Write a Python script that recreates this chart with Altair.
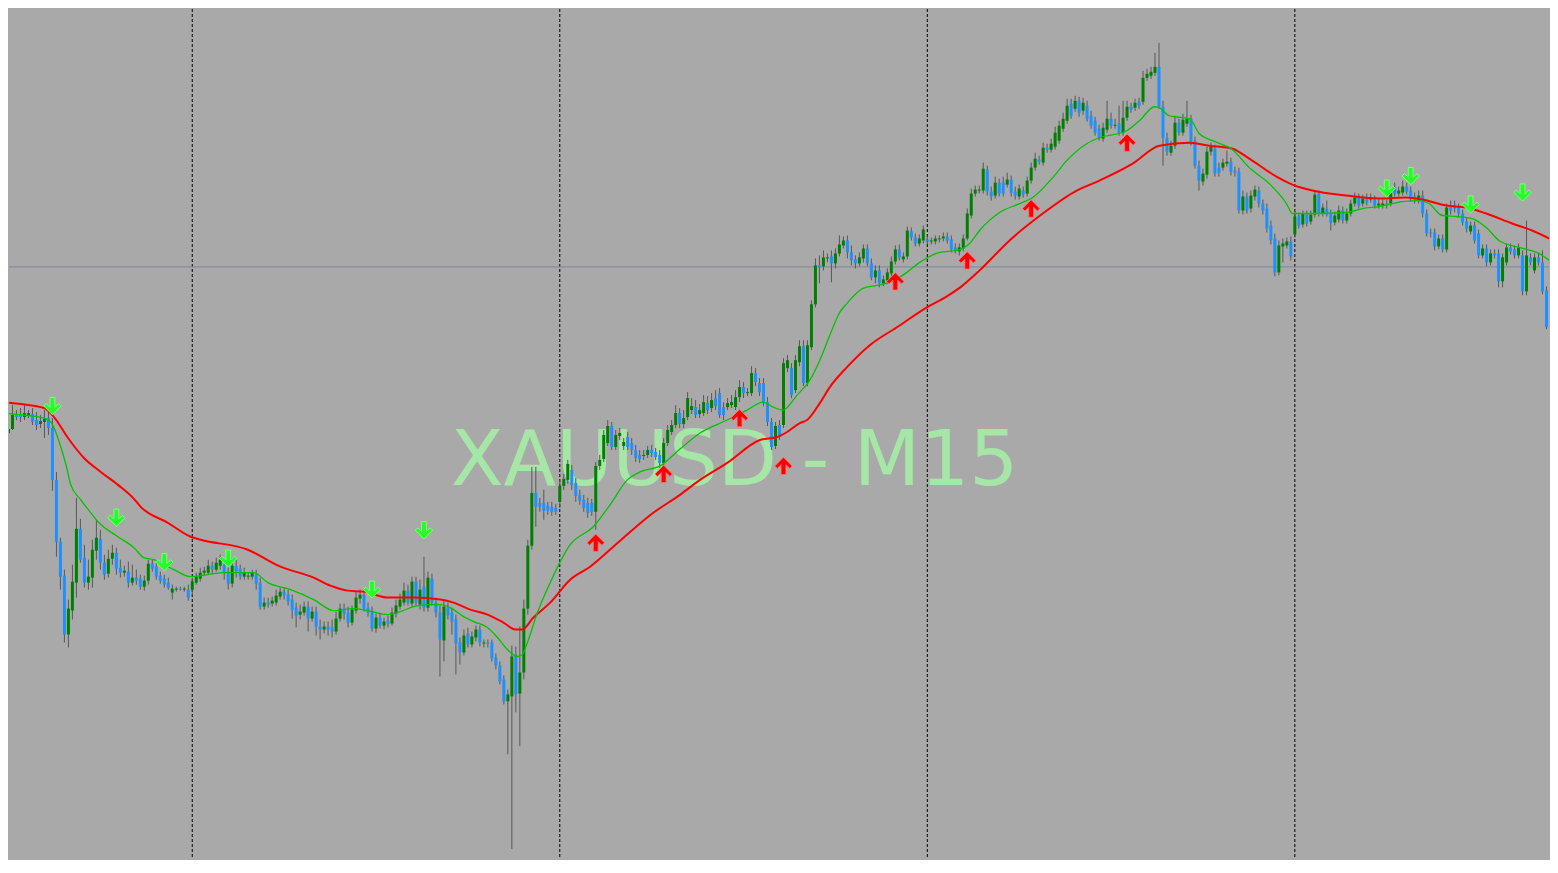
import altair as alt
import pandas as pd

# ---------------- data (price) ----------------
opens = [
    2358.1, 2356.7, 2357.1, 2358.5, 2358.6, 2358.3, 2358.5, 2358.6, 2358.0, 2357.6,
    2357.8, 2358.2, 2357.2, 2352.0, 2345.8, 2342.4, 2336.5, 2338.9, 2341.7, 2347.1,
    2344.2, 2341.7, 2342.2, 2344.9, 2346.1, 2343.7, 2342.6, 2344.1, 2344.7, 2343.2,
    2342.7, 2342.8, 2341.7, 2342.2, 2342.1, 2341.3, 2341.9, 2343.6, 2343.3, 2342.4,
    2342.1, 2341.7, 2340.7, 2341.0, 2341.1, 2341.0, 2341.0, 2341.0, 2341.7, 2342.1,
    2342.7, 2342.7, 2343.4, 2343.0, 2343.4, 2343.5, 2342.8, 2341.6, 2343.4, 2343.1,
    2342.3, 2342.3, 2342.3, 2342.5, 2341.7, 2339.3, 2339.7, 2339.6, 2339.7, 2340.3,
    2340.8, 2340.5, 2340.0, 2339.2, 2338.5, 2338.7, 2339.3, 2338.1, 2338.8, 2337.3,
    2337.0, 2337.3, 2337.2, 2336.8, 2338.1, 2339.1, 2338.7, 2337.7, 2338.9, 2340.1,
    2340.5, 2339.2, 2338.8, 2337.1, 2338.2, 2337.4, 2337.9, 2337.6, 2338.6, 2339.3,
    2339.7, 2340.9, 2339.6, 2341.8, 2339.5, 2341.3, 2339.2, 2342.1, 2339.7, 2338.7,
    2335.9, 2339.2, 2338.7, 2338.0, 2335.7, 2334.7, 2336.6, 2335.5, 2336.2, 2337.0,
    2335.6, 2335.7, 2335.7, 2334.2, 2333.4, 2332.0, 2329.8, 2330.3, 2334.5, 2330.6,
    2332.7, 2339.1, 2345.4, 2350.7, 2349.7, 2349.7, 2349.4, 2349.3, 2349.2, 2349.8,
    2351.4, 2352.0, 2353.0, 2351.7, 2350.5, 2350.0, 2349.7, 2349.7, 2348.8, 2353.4,
    2354.1, 2355.7, 2357.4, 2355.3, 2356.4, 2355.4, 2356.3, 2355.7, 2355.0, 2354.5,
    2354.4, 2354.5, 2355.0, 2354.8, 2354.5, 2353.7, 2355.7, 2356.8, 2357.5, 2358.7,
    2357.6, 2358.3, 2359.0, 2359.3, 2358.6, 2358.7, 2359.7, 2359.2, 2360.2, 2360.7,
    2359.3, 2359.3, 2359.5, 2359.3, 2360.3, 2361.3, 2360.7, 2360.7, 2362.7, 2361.7,
    2361.7, 2359.8, 2357.8, 2355.4, 2357.5, 2357.5, 2363.2, 2363.2, 2361.0, 2363.8,
    2365.4, 2361.7, 2365.3, 2369.6, 2373.5, 2373.4, 2374.2, 2374.4, 2373.7, 2374.7,
    2375.5, 2376.0, 2374.8, 2374.1, 2373.7, 2374.2, 2375.2, 2373.7, 2372.3, 2373.0,
    2371.7, 2372.0, 2372.7, 2373.9, 2375.1, 2374.1, 2374.4, 2376.9, 2376.3, 2375.7,
    2376.0, 2376.1, 2375.9, 2375.9, 2376.1, 2376.2, 2376.4, 2376.1, 2375.3, 2374.9,
    2375.2, 2376.2, 2378.5, 2380.7, 2381.0, 2381.0, 2383.1, 2380.9, 2380.5, 2381.8,
    2381.8, 2381.6, 2382.1, 2380.9, 2380.4, 2381.0, 2380.7, 2382.0, 2383.3, 2384.1,
    2383.8, 2385.3, 2385.1, 2385.4, 2386.0, 2387.2, 2388.0, 2389.7, 2389.2, 2390.0,
    2389.0, 2389.5, 2388.5, 2388.0, 2387.2, 2386.2, 2387.1, 2388.2, 2387.5, 2387.7,
    2386.8, 2388.3, 2389.4, 2389.3, 2389.9, 2389.9, 2392.3, 2392.5, 2392.8, 2393.4,
    2389.4, 2386.3, 2384.8, 2385.5, 2387.8, 2386.8, 2387.7, 2388.2, 2386.0, 2383.5,
    2381.9, 2382.6, 2384.9, 2385.2, 2383.3, 2383.3, 2383.7, 2383.9, 2383.0, 2382.9,
    2379.0, 2380.4, 2379.2, 2380.4, 2381.0, 2379.7, 2379.2, 2377.5, 2376.2, 2372.8,
    2375.4, 2375.5, 2375.9, 2376.6, 2378.5, 2377.6, 2378.7, 2377.9, 2378.6, 2380.7,
    2378.7, 2379.2, 2378.7, 2377.8, 2378.1, 2379.0, 2378.0, 2378.7, 2379.7, 2380.3,
    2379.7, 2380.3, 2380.1, 2380.1, 2379.5, 2379.5, 2379.7, 2379.7, 2381.3, 2380.7,
    2380.8, 2381.4, 2381.0, 2380.4, 2380.0, 2380.5, 2378.7, 2376.8, 2376.8, 2375.4,
    2376.2, 2375.1, 2379.5, 2379.5, 2379.3, 2378.7, 2377.9, 2376.9, 2377.5, 2376.7,
    2374.5, 2375.2, 2373.8, 2374.7, 2374.7, 2371.9, 2373.8, 2375.3, 2375.1, 2374.5,
    2374.5, 2370.9, 2374.3, 2373.0, 2374.3, 2373.8, 2371.0, 2367.3, 2372.6,
]
highs = [
    2358.8, 2358.0, 2359.5, 2359.0, 2359.2, 2359.5, 2359.0, 2359.2, 2358.8, 2358.5,
    2359.0, 2359.0, 2358.2, 2352.8, 2346.2, 2343.0, 2340.0, 2343.5, 2350.2, 2348.1,
    2345.5, 2344.0, 2346.0, 2348.0, 2347.0, 2344.5, 2345.0, 2345.5, 2345.2, 2344.0,
    2343.4, 2343.8, 2343.5, 2343.0, 2342.5, 2342.4, 2344.0, 2344.0, 2343.7, 2342.8,
    2342.5, 2342.2, 2341.5, 2341.3, 2341.3, 2341.3, 2341.5, 2342.2, 2342.7, 2343.2,
    2343.3, 2344.0, 2343.8, 2344.2, 2344.5, 2344.0, 2343.3, 2344.2, 2344.0, 2343.5,
    2343.2, 2342.7, 2343.0, 2343.0, 2342.2, 2340.2, 2340.2, 2340.3, 2341.0, 2341.2,
    2341.2, 2341.0, 2340.5, 2339.7, 2339.5, 2339.8, 2339.8, 2339.3, 2339.3, 2338.0,
    2337.8, 2337.8, 2338.0, 2338.8, 2339.6, 2339.6, 2339.3, 2339.4, 2340.8, 2341.0,
    2341.0, 2339.7, 2339.3, 2338.6, 2338.7, 2338.2, 2338.4, 2339.2, 2340.0, 2340.6,
    2341.7, 2341.5, 2342.3, 2342.3, 2342.0, 2344.3, 2342.8, 2342.6, 2340.2, 2339.4,
    2340.0, 2339.7, 2339.2, 2338.5, 2336.2, 2337.0, 2337.2, 2336.8, 2337.4, 2337.4,
    2336.0, 2336.0, 2336.0, 2334.6, 2333.8, 2332.4, 2331.0, 2335.4, 2335.3, 2337.3,
    2340.0, 2346.0, 2353.3, 2353.3, 2350.2, 2351.0, 2349.8, 2349.8, 2349.6, 2352.0,
    2352.6, 2354.0, 2353.5, 2352.2, 2351.0, 2350.5, 2350.2, 2350.1, 2353.8, 2354.5,
    2357.0, 2358.0, 2357.8, 2357.0, 2357.2, 2356.2, 2356.8, 2356.2, 2355.5, 2355.0,
    2355.0, 2355.4, 2355.5, 2355.2, 2355.0, 2356.2, 2357.5, 2358.0, 2359.5, 2359.2,
    2359.0, 2360.8, 2360.2, 2360.0, 2359.6, 2360.5, 2360.4, 2360.7, 2361.0, 2361.2,
    2359.8, 2360.2, 2360.5, 2361.0, 2362.0, 2361.8, 2361.2, 2363.4, 2363.2, 2362.2,
    2362.2, 2360.3, 2358.2, 2357.8, 2358.0, 2364.2, 2364.5, 2363.7, 2364.5, 2366.0,
    2366.0, 2366.0, 2370.0, 2374.2, 2374.5, 2375.0, 2374.7, 2375.0, 2375.2, 2376.5,
    2376.4, 2376.5, 2375.5, 2374.5, 2374.8, 2375.6, 2375.6, 2374.2, 2373.5, 2373.5,
    2372.5, 2373.2, 2374.4, 2375.5, 2375.6, 2374.8, 2377.4, 2377.3, 2376.7, 2376.6,
    2377.5, 2376.5, 2376.3, 2376.5, 2376.5, 2376.8, 2376.8, 2376.5, 2375.7, 2375.7,
    2376.6, 2379.2, 2381.2, 2381.5, 2381.5, 2383.8, 2383.5, 2381.4, 2382.4, 2382.2,
    2382.4, 2382.8, 2382.5, 2381.4, 2381.6, 2381.4, 2382.4, 2383.8, 2384.8, 2384.5,
    2385.8, 2385.7, 2386.2, 2387.4, 2388.0, 2388.8, 2390.2, 2390.2, 2390.5, 2390.4,
    2390.3, 2390.0, 2389.0, 2388.4, 2387.6, 2387.8, 2390.0, 2388.8, 2388.2, 2389.5,
    2390.0, 2390.0, 2389.8, 2390.2, 2390.3, 2393.0, 2393.2, 2393.4, 2394.8, 2395.8,
    2390.0, 2386.8, 2386.0, 2388.5, 2388.2, 2388.7, 2390.0, 2388.6, 2386.4, 2384.0,
    2383.2, 2385.4, 2385.8, 2385.6, 2383.8, 2384.2, 2385.0, 2384.3, 2383.4, 2383.3,
    2381.0, 2380.8, 2381.0, 2381.5, 2381.4, 2380.1, 2379.7, 2378.0, 2376.7, 2376.0,
    2376.2, 2376.3, 2376.4, 2379.0, 2378.8, 2379.0, 2379.0, 2379.0, 2381.0, 2381.0,
    2379.7, 2380.0, 2379.1, 2378.9, 2379.5, 2379.4, 2379.2, 2380.1, 2380.8, 2380.7,
    2380.6, 2380.7, 2380.7, 2380.5, 2380.1, 2380.1, 2380.1, 2381.2, 2381.8, 2381.4,
    2382.0, 2381.8, 2381.4, 2380.8, 2381.0, 2381.0, 2379.1, 2377.2, 2377.2, 2376.6,
    2376.6, 2379.7, 2380.0, 2380.0, 2379.7, 2379.1, 2378.3, 2377.9, 2377.9, 2377.1,
    2375.6, 2375.6, 2375.1, 2375.1, 2375.1, 2374.7, 2375.7, 2375.7, 2375.5, 2375.7,
    2375.0, 2378.0, 2374.7, 2374.7, 2374.7, 2375.0, 2371.4, 2373.8, 2373.0,
]
lows = [
    2356.3, 2355.5, 2357.0, 2358.0, 2357.8, 2358.0, 2358.2, 2357.5, 2357.0, 2357.2,
    2356.2, 2356.5, 2350.9, 2344.3, 2341.0, 2335.7, 2335.2, 2338.0, 2340.2, 2343.7,
    2341.2, 2341.0, 2341.2, 2344.0, 2343.0, 2342.0, 2342.2, 2343.5, 2342.5, 2342.2,
    2342.3, 2341.2, 2341.4, 2341.5, 2341.0, 2340.9, 2341.5, 2342.8, 2342.0, 2341.6,
    2341.2, 2341.0, 2340.0, 2340.8, 2340.9, 2340.8, 2339.9, 2340.4, 2341.5, 2341.8,
    2342.4, 2342.5, 2342.6, 2342.8, 2343.0, 2342.0, 2341.0, 2341.2, 2342.2, 2342.0,
    2342.0, 2342.0, 2342.0, 2341.0, 2339.0, 2339.0, 2339.2, 2339.3, 2339.4, 2340.0,
    2340.0, 2339.4, 2338.1, 2337.2, 2338.0, 2338.4, 2336.8, 2337.8, 2336.4, 2336.0,
    2336.6, 2336.4, 2336.2, 2336.5, 2337.8, 2338.0, 2337.2, 2337.4, 2338.6, 2339.6,
    2338.8, 2338.3, 2336.8, 2336.7, 2337.1, 2337.0, 2337.2, 2337.4, 2338.2, 2339.0,
    2339.4, 2339.4, 2339.3, 2339.4, 2339.0, 2338.8, 2338.8, 2339.4, 2338.2, 2332.3,
    2333.8, 2338.0, 2336.5, 2332.5, 2333.5, 2334.4, 2335.2, 2335.2, 2335.8, 2335.3,
    2335.2, 2335.2, 2333.8, 2333.0, 2331.5, 2329.5, 2324.5, 2315.0, 2328.7, 2325.3,
    2332.0, 2338.5, 2345.0, 2347.3, 2348.8, 2348.0, 2348.5, 2348.4, 2348.5, 2349.2,
    2351.0, 2351.6, 2351.0, 2349.8, 2349.5, 2348.8, 2348.2, 2348.4, 2347.0, 2353.0,
    2353.8, 2355.4, 2355.0, 2355.0, 2356.0, 2355.0, 2355.0, 2354.5, 2353.8, 2353.7,
    2354.0, 2354.2, 2354.3, 2354.0, 2353.2, 2353.4, 2355.4, 2356.5, 2357.2, 2357.2,
    2357.2, 2358.0, 2358.6, 2358.2, 2358.2, 2358.4, 2358.6, 2358.8, 2359.0, 2358.2,
    2358.0, 2359.0, 2359.2, 2359.0, 2359.8, 2360.2, 2360.4, 2360.4, 2361.4, 2360.4,
    2359.4, 2357.4, 2355.0, 2355.1, 2356.0, 2357.2, 2362.8, 2360.2, 2360.7, 2363.4,
    2361.4, 2361.4, 2365.0, 2369.3, 2371.7, 2373.0, 2373.8, 2371.8, 2373.2, 2374.4,
    2375.2, 2374.2, 2373.5, 2373.2, 2373.4, 2373.8, 2373.4, 2372.0, 2371.7, 2371.3,
    2371.4, 2371.7, 2372.4, 2373.6, 2374.0, 2373.8, 2374.1, 2376.0, 2375.4, 2375.4,
    2375.7, 2375.6, 2375.6, 2375.6, 2375.8, 2375.9, 2375.7, 2374.8, 2374.7, 2374.5,
    2374.9, 2376.0, 2378.2, 2380.4, 2380.7, 2380.7, 2380.5, 2380.0, 2380.2, 2380.4,
    2380.4, 2381.3, 2380.4, 2380.1, 2380.1, 2380.3, 2380.4, 2381.7, 2383.0, 2383.6,
    2383.5, 2384.8, 2384.8, 2385.1, 2385.7, 2386.9, 2387.7, 2388.2, 2388.9, 2388.4,
    2388.6, 2387.9, 2387.2, 2386.5, 2386.0, 2385.9, 2386.8, 2387.2, 2387.2, 2386.5,
    2386.5, 2388.0, 2388.8, 2389.0, 2389.2, 2389.6, 2392.0, 2392.2, 2392.5, 2389.2,
    2383.5, 2384.5, 2384.5, 2385.2, 2386.5, 2386.5, 2387.4, 2385.5, 2383.2, 2381.0,
    2381.5, 2382.2, 2384.5, 2382.4, 2382.4, 2383.0, 2383.4, 2382.5, 2382.4, 2378.7,
    2378.6, 2378.7, 2378.8, 2380.0, 2379.3, 2378.6, 2376.8, 2375.6, 2372.4, 2372.5,
    2373.8, 2375.2, 2374.0, 2376.3, 2377.2, 2377.3, 2377.4, 2377.6, 2378.3, 2378.4,
    2378.4, 2378.4, 2377.0, 2377.5, 2377.8, 2377.7, 2377.7, 2378.4, 2379.4, 2379.2,
    2379.4, 2379.5, 2379.8, 2379.2, 2379.2, 2379.2, 2379.2, 2379.4, 2380.4, 2380.4,
    2380.5, 2380.6, 2379.9, 2379.7, 2379.7, 2378.3, 2376.4, 2376.3, 2375.0, 2375.1,
    2374.8, 2374.8, 2378.6, 2378.8, 2378.3, 2377.5, 2376.8, 2376.6, 2375.7, 2374.2,
    2374.2, 2373.4, 2373.5, 2374.2, 2371.3, 2371.3, 2373.5, 2374.6, 2374.2, 2374.2,
    2370.5, 2370.5, 2373.5, 2372.7, 2373.5, 2370.6, 2367.1, 2367.1, 2370.4,
]
closes = [
    2356.7, 2357.1, 2358.5, 2358.3, 2358.3, 2358.7, 2358.7, 2357.8, 2357.5, 2357.9,
    2358.1, 2357.2, 2352.0, 2345.8, 2342.3, 2336.5, 2339.1, 2341.8, 2347.1, 2344.0,
    2341.7, 2342.3, 2345.0, 2346.2, 2343.7, 2342.5, 2344.1, 2344.7, 2343.1, 2342.7,
    2342.9, 2341.7, 2342.2, 2341.9, 2341.3, 2341.9, 2343.6, 2343.1, 2342.3, 2341.9,
    2341.5, 2341.2, 2341.1, 2341.1, 2341.0, 2341.1, 2340.2, 2341.8, 2342.3, 2342.7,
    2342.9, 2343.4, 2343.0, 2343.7, 2344.0, 2342.7, 2341.6, 2343.4, 2342.8, 2342.3,
    2342.7, 2342.4, 2342.7, 2341.6, 2339.3, 2339.7, 2339.5, 2339.9, 2340.4, 2340.8,
    2340.4, 2339.8, 2339.0, 2338.4, 2338.8, 2339.3, 2338.1, 2338.8, 2337.3, 2337.0,
    2337.3, 2337.0, 2336.8, 2338.1, 2339.1, 2338.6, 2337.7, 2339.0, 2340.2, 2340.5,
    2339.1, 2338.7, 2337.1, 2338.2, 2337.4, 2337.8, 2337.6, 2338.7, 2339.4, 2340.0,
    2340.9, 2339.7, 2341.8, 2339.7, 2341.0, 2339.2, 2342.2, 2339.7, 2338.7, 2336.0,
    2339.3, 2338.4, 2337.8, 2335.6, 2334.7, 2336.4, 2335.5, 2336.3, 2337.0, 2335.7,
    2335.7, 2335.6, 2334.1, 2333.4, 2331.8, 2329.8, 2330.5, 2334.3, 2330.5, 2332.7,
    2339.1, 2345.4, 2350.7, 2349.3, 2349.3, 2348.9, 2348.9, 2348.8, 2348.8, 2351.4,
    2352.1, 2353.6, 2351.5, 2350.4, 2349.9, 2349.2, 2348.7, 2348.8, 2353.4, 2354.0,
    2356.5, 2357.4, 2355.3, 2356.5, 2356.7, 2355.8, 2355.3, 2355.0, 2354.2, 2354.1,
    2354.5, 2355.0, 2354.7, 2354.3, 2353.7, 2355.7, 2357.0, 2357.5, 2358.7, 2357.6,
    2358.2, 2360.2, 2359.4, 2358.5, 2359.0, 2359.8, 2359.0, 2360.0, 2359.4, 2358.5,
    2358.5, 2359.7, 2359.8, 2360.3, 2361.3, 2360.7, 2360.8, 2362.7, 2361.8, 2360.8,
    2359.8, 2357.8, 2355.3, 2357.4, 2356.3, 2363.7, 2364.0, 2360.5, 2364.0, 2365.4,
    2361.7, 2365.5, 2369.6, 2373.5, 2373.3, 2374.3, 2374.3, 2373.7, 2374.7, 2375.6,
    2376.0, 2374.8, 2374.0, 2373.7, 2374.3, 2375.2, 2373.7, 2372.3, 2373.0, 2371.7,
    2372.1, 2372.8, 2373.9, 2375.1, 2374.3, 2374.4, 2377.0, 2376.3, 2375.7, 2376.2,
    2377.1, 2375.9, 2376.0, 2376.2, 2376.2, 2376.4, 2376.0, 2375.1, 2375.0, 2375.3,
    2376.2, 2378.7, 2380.7, 2381.1, 2381.1, 2383.2, 2380.9, 2380.4, 2381.8, 2380.7,
    2380.7, 2382.1, 2380.8, 2380.5, 2381.2, 2380.6, 2382.0, 2383.3, 2384.2, 2383.9,
    2385.3, 2385.1, 2385.7, 2386.8, 2387.5, 2388.2, 2389.5, 2388.5, 2390.0, 2388.8,
    2389.8, 2388.2, 2387.5, 2386.8, 2386.3, 2387.3, 2388.2, 2387.5, 2387.6, 2386.8,
    2388.3, 2389.4, 2389.1, 2389.8, 2389.5, 2392.3, 2392.7, 2392.9, 2393.4, 2389.4,
    2386.3, 2384.9, 2385.5, 2387.8, 2386.8, 2388.1, 2388.2, 2385.8, 2383.5, 2382.0,
    2382.7, 2384.9, 2385.4, 2382.7, 2382.8, 2383.8, 2383.9, 2382.9, 2382.8, 2379.0,
    2380.4, 2379.0, 2380.5, 2381.1, 2379.7, 2379.0, 2377.2, 2376.0, 2372.8, 2375.5,
    2375.7, 2375.9, 2374.4, 2378.4, 2377.5, 2378.7, 2377.7, 2378.6, 2380.6, 2378.7,
    2379.3, 2378.6, 2377.8, 2378.5, 2379.0, 2378.0, 2378.7, 2379.7, 2380.3, 2379.5,
    2380.2, 2379.8, 2380.3, 2379.5, 2379.7, 2379.7, 2379.5, 2380.8, 2380.7, 2381.0,
    2381.4, 2380.9, 2380.2, 2380.1, 2380.5, 2378.7, 2376.7, 2376.7, 2375.4, 2376.2,
    2375.1, 2379.3, 2379.0, 2379.2, 2378.7, 2377.8, 2377.2, 2377.5, 2376.0, 2374.5,
    2375.2, 2373.8, 2374.7, 2374.5, 2371.9, 2374.3, 2375.3, 2374.9, 2374.5, 2375.3,
    2370.9, 2374.5, 2373.8, 2374.3, 2373.8, 2370.9, 2367.3, 2372.6, 2370.7,
]

# slow (red) and fast (green) moving averages: (bar index, price)
slow_ma = [
    (-1, 2359.8), (4.1, 2359.6), (9.9, 2359.2), (12.4, 2358.3), (15.9, 2356.2),
    (19.9, 2354.2), (24.1, 2352.8), (28.4, 2351.5), (32.4, 2350.1), (34.1, 2349.3),
    (40.9, 2347.7), (46.6, 2346.3), (49.1, 2346.0), (60.9, 2345.0), (69.1, 2343.3),
    (77.4, 2342.2), (81.6, 2341.4), (85.9, 2340.9), (89.9, 2340.8), (95.9, 2340.2),
    (102.4, 2340.2), (109.1, 2340.0), (112.4, 2339.7), (116.6, 2339.0), (120.9, 2338.5),
    (124.9, 2337.7), (127.9, 2337.0), (129.6, 2337.0), (132.4, 2338.2), (136.6, 2339.7),
    (141.6, 2342.0), (146.6, 2343.3), (154.1, 2345.9), (162.4, 2348.7), (169.1, 2350.5),
    (174.1, 2352.0), (180.9, 2353.7), (189.1, 2356.0), (193.4, 2356.3), (195.9, 2356.8),
    (199.1, 2357.7), (200.9, 2358.0), (204.1, 2359.7), (206.6, 2361.3), (210.9, 2363.3),
    (216.6, 2365.5), (223.4, 2367.3), (230.9, 2369.3), (235.9, 2370.4), (239.9, 2371.5),
    (244.1, 2373.0), (251.6, 2376.0), (259.9, 2378.7), (268.4, 2381.0), (274.1, 2382.0),
    (282.4, 2383.7), (289.1, 2385.5), (296.6, 2385.8), (301.6, 2385.5), (307.4, 2385.2),
    (311.6, 2384.2), (318.4, 2382.4), (322.4, 2381.6), (327.4, 2381.0), (335.9, 2380.5),
    (344.1, 2380.2), (350.9, 2380.3), (354.9, 2380.1), (360.9, 2379.5), (365.9, 2379.3),
    (370.9, 2378.7), (377.4, 2377.7), (382.4, 2377.0), (388.6, 2375.8),
]
fast_ma = [
    (-1, 2358.7), (9.9, 2358.2), (11.6, 2357.8), (12.9, 2356.7), (14.1, 2355.3),
    (15.4, 2353.5), (16.6, 2351.5), (19.1, 2350.0), (21.6, 2348.7), (23.4, 2347.8),
    (28.4, 2346.3), (32.4, 2345.2), (34.9, 2344.2), (37.4, 2344.0), (42.4, 2343.0),
    (46.6, 2342.3), (49.1, 2342.4), (54.9, 2342.7), (62.4, 2342.7), (65.9, 2341.7),
    (71.6, 2341.0), (77.4, 2340.0), (82.4, 2338.9), (87.4, 2339.1), (90.9, 2338.9),
    (95.9, 2338.5), (99.1, 2338.8), (102.4, 2339.3), (105.9, 2339.5), (109.1, 2339.5),
    (112.4, 2339.0), (114.9, 2338.3), (117.4, 2337.8), (120.9, 2337.2), (123.4, 2336.2),
    (125.9, 2335.0), (128.4, 2334.3), (129.6, 2334.5), (130.9, 2335.7), (133.4, 2338.7),
    (136.6, 2341.7), (141.6, 2345.5), (147.4, 2347.3), (151.6, 2349.5), (155.9, 2352.0),
    (159.1, 2352.8), (164.1, 2353.4), (169.1, 2355.1), (174.1, 2356.7), (180.9, 2358.0),
    (185.9, 2359.0), (189.9, 2359.8), (192.4, 2359.3), (194.9, 2359.0), (198.4, 2360.5),
    (201.6, 2362.0), (204.1, 2364.0), (206.6, 2366.5), (209.1, 2368.8), (210.9, 2369.7),
    (214.9, 2371.2), (218.4, 2371.5), (221.6, 2371.8), (225.9, 2372.8), (229.1, 2373.8),
    (234.1, 2374.8), (238.4, 2375.0), (241.6, 2375.7), (244.1, 2377.0), (249.1, 2378.8),
    (254.1, 2379.7), (257.4, 2380.3), (262.4, 2382.3), (265.9, 2384.0), (270.9, 2385.7),
    (274.1, 2386.3), (280.9, 2387.0), (284.1, 2388.0), (287.9, 2389.4), (289.1, 2389.3),
    (291.6, 2388.5), (296.6, 2388.2), (299.1, 2386.7), (302.4, 2386.0), (307.4, 2385.1),
    (311.6, 2383.3), (316.6, 2381.7), (320.9, 2379.7), (322.4, 2378.7), (327.4, 2378.7),
    (335.9, 2378.8), (339.9, 2379.2), (344.1, 2379.4), (349.9, 2379.9), (354.1, 2380.0),
    (356.6, 2379.7), (359.9, 2378.5), (363.4, 2378.4), (367.4, 2378.2), (370.9, 2377.3),
    (374.1, 2376.0), (379.1, 2375.3), (384.1, 2374.7), (388.6, 2373.4),
]

# signal arrows
buy_bars = [148, 165, 184, 195, 223, 241, 257, 281]
buy_prices = [2345.7, 2352.6, 2358.2, 2353.4, 2371.9, 2374.0, 2379.2, 2385.8]
sell_bars = [12, 28, 40, 56, 92, 105, 346, 352, 367, 380]
sell_prices = [2359.4, 2348.2, 2343.75, 2344.1, 2341.0, 2346.95, 2381.2, 2382.45, 2379.6, 2380.8]

day_separators = [47, 139, 231, 323]
bid_line = [2373.35]
watermark = ["XAUUSD - M15"]
watermark_pos = [(182.75, 2351.5)]

# ---------------- styling ----------------
BG = "#a9a9a9"
UP = "#008000"
DOWN = "#1e90ff"
WICK = "#585858"

x_scale = alt.Scale(domain=[1.125, 386.625], nice=False, zero=False, padding=0)
y_scale = alt.Scale(domain=[2314.0, 2399.2], nice=False, zero=False, padding=0)

bars = pd.DataFrame({
    "bar": list(range(len(opens))),
    "open": opens, "high": highs, "low": lows, "close": closes,
})
bars["dir"] = ["up" if c >= o else "down" for o, c in zip(opens, closes)]

X = lambda f: alt.X(f, scale=x_scale, axis=None)
Y = lambda f: alt.Y(f, scale=y_scale, axis=None)

wm = alt.Chart(pd.DataFrame({
    "bar": [p[0] for p in watermark_pos],
    "price": [p[1] for p in watermark_pos],
    "label": watermark,
})).mark_text(font="DejaVu Sans", fontSize=77, color="#a6e6a6",
              align="center", baseline="alphabetic", clip=True).encode(
    x=X("bar:Q"), y=Y("price:Q"), text="label:N")

seps = alt.Chart(pd.DataFrame({"bar": day_separators})).mark_rule(
    color="#000000", strokeWidth=1, strokeDash=[3, 2]).encode(x=X("bar:Q"))

hline = alt.Chart(pd.DataFrame({"price": bid_line})).mark_rule(
    color="#7889a0", strokeWidth=1).encode(y=Y("price:Q"))

wicks = alt.Chart(bars).mark_rule(color=WICK, strokeWidth=1, clip=True).encode(
    x=X("bar:Q"), y=Y("low:Q"), y2="high:Q")

bodies = alt.Chart(bars).mark_bar(width=3, clip=True).encode(
    x=X("bar:Q"), y=Y("open:Q"), y2="close:Q",
    color=alt.Color("dir:N", scale=alt.Scale(domain=["up", "down"], range=[UP, DOWN]), legend=None))

slow = alt.Chart(pd.DataFrame(slow_ma, columns=["bar", "price"])).mark_line(
    color="#ff0000", strokeWidth=2, interpolate="monotone", clip=True).encode(
    x=X("bar:Q"), y=Y("price:Q"))

fast = alt.Chart(pd.DataFrame(fast_ma, columns=["bar", "price"])).mark_line(
    color="#00c400", strokeWidth=1.3, interpolate="monotone", clip=True).encode(
    x=X("bar:Q"), y=Y("price:Q"))

UP_ARROW = "M-0.28,1L0.28,1L0.28,-0.15L0.72,0.29L1,0.01L0,-1L-1,0.01L-0.72,0.29L-0.28,-0.15Z"
DOWN_ARROW = "M-0.28,-1L0.28,-1L0.28,0.15L0.72,-0.29L1,-0.01L0,1L-1,-0.01L-0.72,-0.29L-0.28,0.15Z"

buys = alt.Chart(pd.DataFrame({"bar": buy_bars, "price": buy_prices})).mark_point(
    shape=UP_ARROW, size=300, filled=True, fill="#ff0000", stroke="#ff7070",
    strokeWidth=0.8, opacity=1, clip=True).encode(x=X("bar:Q"), y=Y("price:Q"))

sells = alt.Chart(pd.DataFrame({"bar": sell_bars, "price": sell_prices})).mark_point(
    shape=DOWN_ARROW, size=300, filled=True, fill="#22ff22", stroke="#90ff90",
    strokeWidth=0.8, opacity=1, clip=True).encode(x=X("bar:Q"), y=Y("price:Q"))

chart = alt.layer(wm, seps, hline, wicks, bodies, slow, fast, buys, sells).properties(
    width=1542, height=852,
    autosize=alt.AutoSizeParams(type="fit", contains="padding"),
    padding=0,
    background=BG,
).configure_view(strokeWidth=0, fill=BG)

chart.save("out.html", embed_options={"renderer": "svg", "actions": False})
